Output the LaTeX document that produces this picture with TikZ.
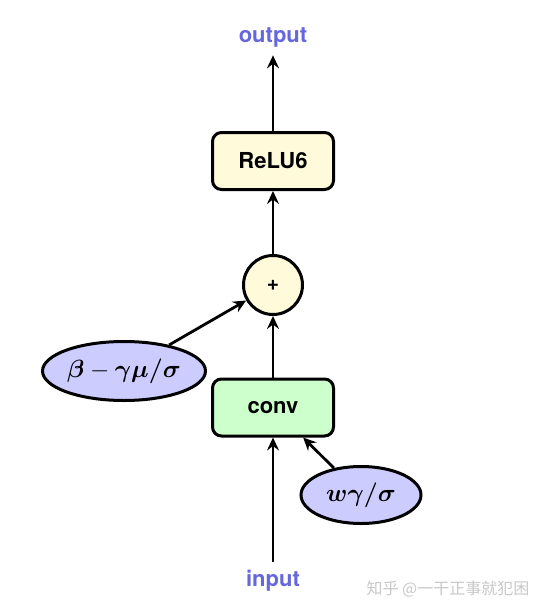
\documentclass[tikz,border=0pt]{standalone}
\usepackage{amsmath}
\usepackage{fontspec}
\setsansfont{TeX Gyre Heros}
\newfontfamily\cjk{Noto Sans CJK SC}
\usetikzlibrary{shapes.geometric,arrows.meta}
\definecolor{lblue}{RGB}{102,102,221}
\definecolor{boxyellow}{RGB}{255,250,218}
\definecolor{boxgreen}{RGB}{204,255,204}
\definecolor{ellblue}{RGB}{204,204,255}
\definecolor{wmgray}{RGB}{200,200,200}
\tikzset{
  opbox/.style={draw, rounded corners=9pt, minimum width=121pt, minimum height=57pt, inner sep=0pt,
    font=\sffamily\bfseries\fontsize{22}{26}\selectfont},
  sumnode/.style={draw, circle, fill=boxyellow, minimum size=59pt, inner sep=0pt,
    font=\sffamily\bfseries\fontsize{21}{24}\selectfont},
  paramell/.style={draw, ellipse, fill=ellblue, inner sep=0pt, font=\fontsize{24}{28}\selectfont},
  iolabel/.style={text=lblue, inner sep=7pt, font=\sffamily\bfseries\fontsize{22}{26}\selectfont},
  flow/.style={-{Stealth[length=13pt,width=12pt,inset=4.5pt]}, line width=2.8pt}
}
\begin{document}
\begin{tikzpicture}[x=1pt,y=-1pt, line width=3pt]
\useasboundingbox (0,0) rectangle (546,613);
\node[iolabel] (output) at (273,37) {output};
\node[opbox, fill=boxyellow] (relu) at (273,161) {ReLU6};
\node[sumnode] (plus) at (273,285) {+};
\node[opbox, fill=boxgreen] (conv) at (273,407.5) {conv};
\node[paramell, minimum width=163pt, minimum height=59pt] (betanode) at (124,371) {$\boldsymbol{\beta}-\boldsymbol{\gamma\mu/\sigma}$};
\node[paramell, minimum width=120pt, minimum height=57pt] (wg) at (361,495) {$\boldsymbol{w\gamma/\sigma}$};
\node[iolabel] (input) at (273,581) {input};
\node[text=wmgray, inner sep=0pt, font=\cjk\fontsize{16}{18}\selectfont] (wm) at (448,589) {知乎 @一干正事就犯困};
\draw[flow] (relu) -- (output);
\draw[flow] (plus) -- (relu);
\draw[flow] (conv) -- (plus);
\draw[flow] (betanode) -- (plus);
\draw[flow] (input) -- (conv);
\draw[flow] (wg) -- (conv);
\end{tikzpicture}
\end{document}
